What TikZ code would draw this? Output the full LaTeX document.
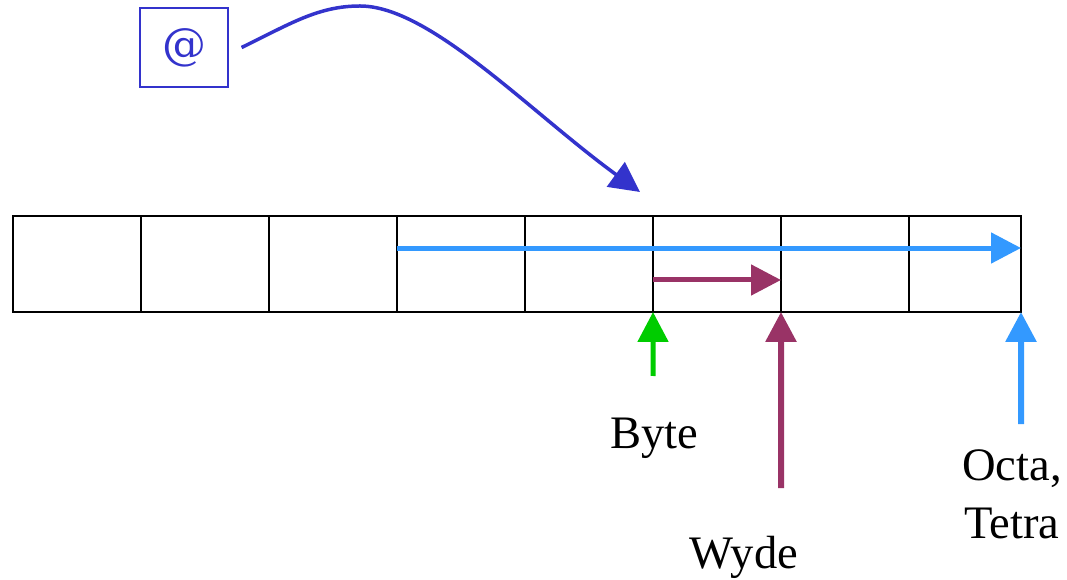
\documentclass[tikz,border=0pt]{standalone}
\usepackage{fontspec}
\setmainfont{Liberation Serif}
\newfontfamily\atfont{DejaVu Serif}
\usetikzlibrary{arrows.meta}

\definecolor{ptrblue}{RGB}{51,51,204}
\definecolor{octablue}{RGB}{51,153,255}
\definecolor{wydepurple}{RGB}{153,51,102}
\definecolor{bytegreen}{RGB}{0,204,0}

\begin{document}
\begin{tikzpicture}[x=0.02cm,y=0.02cm,
    cell/.style={draw,line width=1.1pt,minimum height=1.92cm,inner sep=0pt,outer sep=0pt},
    lbl/.style={font=\fontsize{26.5}{33}\selectfont,align=center,anchor=base},
    head/.style={-{Triangle[length=0.6cm,width=0.6cm]}}]
        \useasboundingbox (0,0) rectangle (1067,-580);
        \def\yM{-264}

        % Casillas de memoria
        \foreach \i in {1,...,7} {
            \node[cell,minimum width=2.56cm] (c\i) at ({77+128*(\i-1)},\yM) {};
        }
        \node[cell,minimum width=2.24cm] (c8) at (965,\yM) {};

        % Direccion
        \node[draw=ptrblue,text=ptrblue,line width=0.7pt,minimum width=1.76cm,
            minimum height=1.58cm,font=\atfont\fontsize{25}{28}\selectfont] (at) at (184,-47.5) {@};
        \coordinate (ptr) at (640,-192);
        \draw[ptrblue,line width=0.07cm,head] ([xshift=0.26cm]at.east)
            .. controls (290,-24) and (318,-6) .. (360,-6)
            .. controls (430,-6) and (530,-112) .. (ptr);

        % Extension de cada acceso
        \draw[octablue,line width=0.1cm,head]
            ([yshift=0.32cm]c4.west) -- ([yshift=0.32cm]c8.east);
        \draw[wydepurple,line width=0.1cm,head]
            ([yshift=-0.32cm]c6.west) -- ([yshift=-0.32cm]c6.east);

        % Alineaciones
        \coordinate (bytefoot) at (653,-376);
        \coordinate (wydefoot) at (781,-488);
        \coordinate (octafoot) at (1021,-424);
        \draw[bytegreen,line width=0.1cm,head] (bytefoot) -- (c6.south west);
        \draw[wydepurple,line width=0.12cm,head] (wydefoot) -- (c6.south east);
        \draw[octablue,line width=0.12cm,head] (octafoot) -- (c8.south east);

        \node[lbl] (byte) at (654,-448) {Byte};
        \node[lbl] (wyde) at (744,-568) {Wyde};
        \node[lbl] (octa) at (1012,-538) {Octa,\\Tetra};
    \end{tikzpicture}
\end{document}
